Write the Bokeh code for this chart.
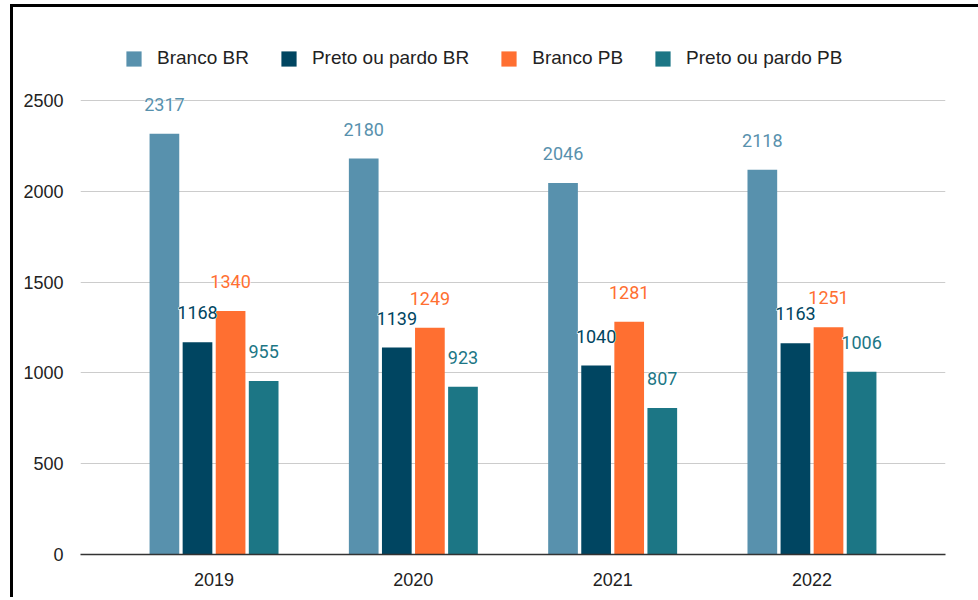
from bokeh.plotting import figure
from bokeh.models import FactorRange, Range1d, ColumnDataSource, Legend, LegendItem, FixedTicker
from bokeh.transform import dodge
from bokeh.core.properties import value
from bokeh.embed import file_html
from bokeh.resources import INLINE

years = ["2019", "2020", "2021", "2022"]
series = ["Branco BR", "Preto ou pardo BR", "Branco PB", "Preto ou pardo PB"]
branco_br = [2317, 2180, 2046, 2118]
preto_br = [1168, 1139, 1040, 1163]
branco_pb = [1340, 1249, 1281, 1251]
preto_pb = [955, 923, 807, 1006]
y_ticks = [0, 500, 1000, 1500, 2000, 2500]

colors = ["#5891ad", "#004561", "#ff6f31", "#1c7685"]
offsets = [-0.249, -0.083, 0.083, 0.249]
cols = ["branco_br", "preto_br", "branco_pb", "preto_pb"]

data = dict(years=years, branco_br=branco_br, preto_br=preto_br,
            branco_pb=branco_pb, preto_pb=preto_pb)
for c in cols:
    data[c + "_lbl"] = [str(v) for v in data[c]]
src = ColumnDataSource(data)

p = figure(x_range=FactorRange(*years, range_padding=0.17, range_padding_units="absolute"),
           y_range=Range1d(0, 2885),
           width=970, height=593, output_backend="svg", toolbar_location=None,
           min_border_left=67, min_border_right=38, min_border_top=23, min_border_bottom=46)
p.styles = {"border-left": "3px solid black", "border-top": "3px solid black",
            "margin-left": "10px", "margin-top": "4px", "overflow": "hidden"}
p.outline_line_color = None

FONT = "Roboto"
LFONT = "Liberation Sans"
items = []
for c, s, col, off in zip(cols, series, colors, offsets):
    r = p.vbar(x=dodge("years", off, range=p.x_range), top=c, width=0.149,
               source=src, fill_color=col, line_color=None)
    items.append(LegendItem(label=s, renderers=[r]))
for c, s, col, off in zip(cols, series, colors, offsets):
    p.text(x=dodge("years", off, range=p.x_range), y=c, text=c + "_lbl", source=src,
           text_color="white", text_font=value(FONT), text_font_size="18px",
           text_align="center", text_baseline="middle", y_offset=-29.5,
           text_outline_color="white")
    p.text(x=dodge("years", off, range=p.x_range), y=c, text=c + "_lbl", source=src,
           text_color=col, text_font=value(FONT), text_font_size="18px",
           text_align="center", text_baseline="middle", y_offset=-29.5)

legend = Legend(items=items, orientation="horizontal", location=(44, 485),
                label_text_font=LFONT, label_text_font_size="19px", label_text_color="#222222",
                glyph_width=19, glyph_height=19, label_standoff=14, spacing=30,
                border_line_color=None, background_fill_alpha=0, padding=0, margin=0)
p.add_layout(legend, "center")

p.yaxis.ticker = FixedTicker(ticks=y_ticks)
p.yaxis.axis_line_color = None
p.yaxis.major_tick_line_color = None
p.yaxis.minor_tick_line_color = None
p.yaxis.major_label_text_font = LFONT
p.yaxis.major_label_text_font_size = "18px"
p.yaxis.major_label_text_color = "#222222"
p.yaxis.major_label_standoff = 11

p.xaxis.axis_line_color = "#333333"
p.xaxis.axis_line_width = 1.5
p.xaxis.major_tick_line_color = None
p.xaxis.minor_tick_line_color = None
p.xaxis.major_label_text_font = LFONT
p.xaxis.major_label_text_font_size = "18px"
p.xaxis.major_label_text_color = "#222222"
p.xaxis.major_label_standoff = 12

p.xgrid.grid_line_color = None
p.ygrid.grid_line_color = "#cccccc"
p.ygrid.grid_line_width = 1
p.ygrid.ticker = FixedTicker(ticks=y_ticks)

open("out.html", "w").write(file_html(p, INLINE))
